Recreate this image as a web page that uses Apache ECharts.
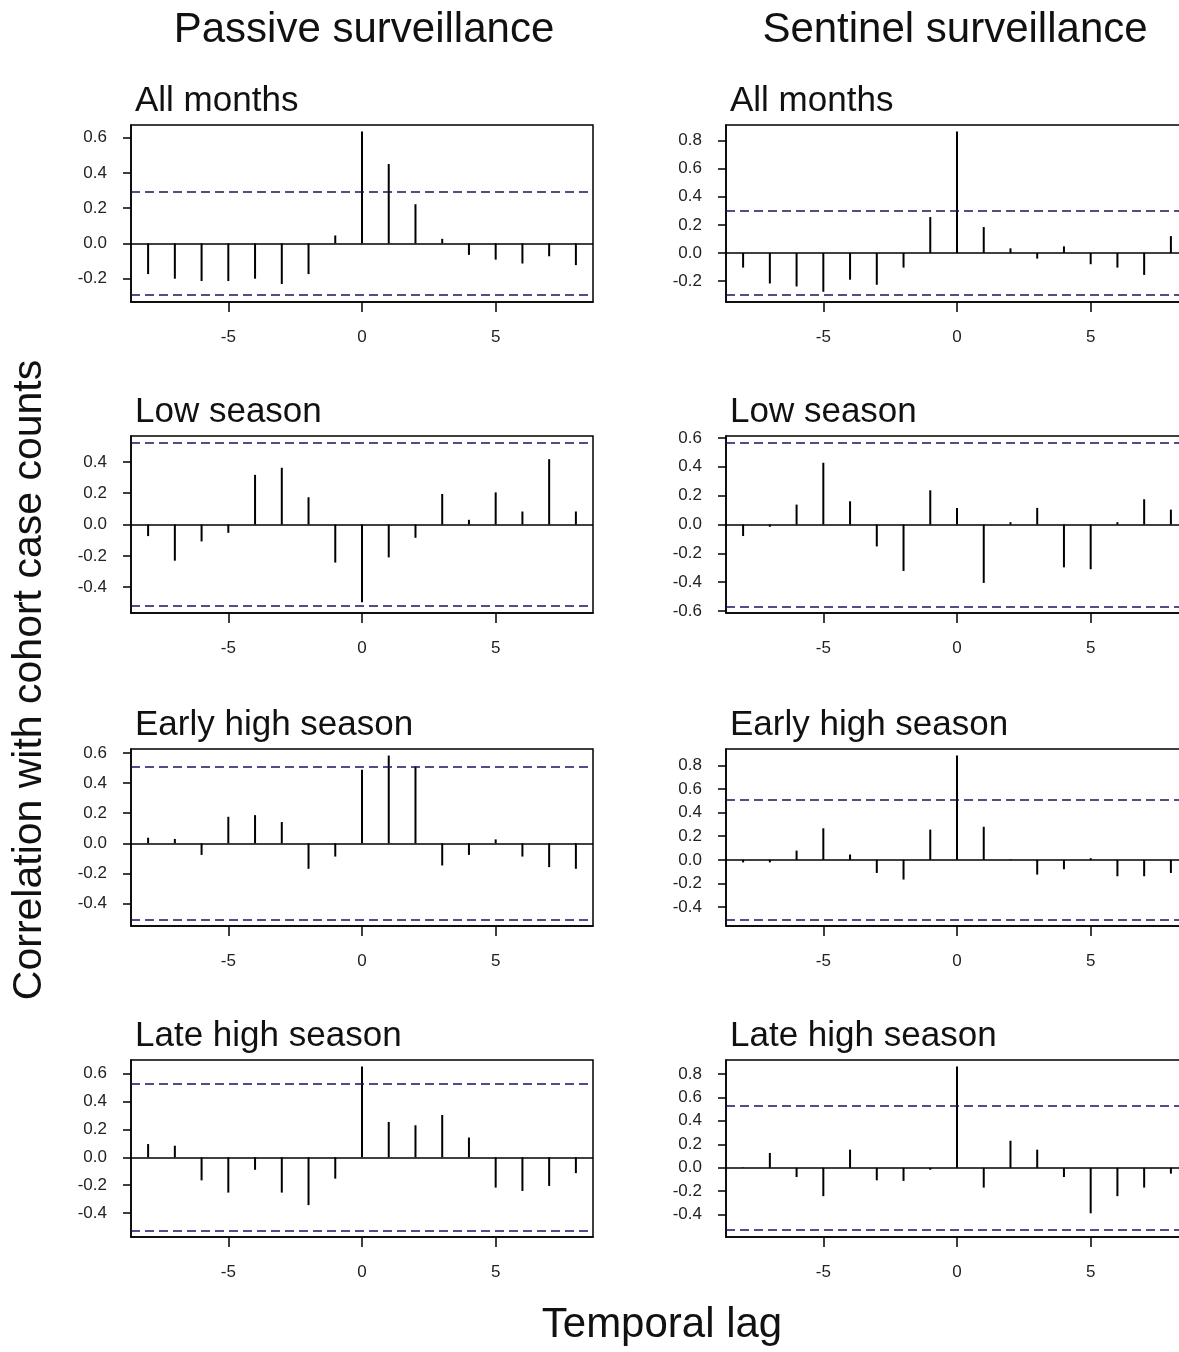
<!DOCTYPE html>
<html>
<head>
<meta charset="utf-8">
<script src="https://cdn.jsdelivr.net/npm/echarts@6/dist/echarts.min.js"></script>
<style>
  html, body { margin: 0; padding: 0; background: #fff; }
  #chart { width: 1179px; height: 1352px; }
</style>
</head>
<body>
<div id="chart"></div>
<script>
// lags shown on every panel
const lags = [-8, -7, -6, -5, -4, -3, -2, -1, 0, 1, 2, 3, 4, 5, 6, 7, 8];
const xTicks = [-5, 0, 5];

const columnTitles = ["Passive surveillance", "Sentinel surveillance"];
const panelTitles = ["All months", "Low season", "Early high season", "Late high season"];

// cross-correlation values, lag -8 .. 8
const passiveAll   = [-0.174, -0.200, -0.213, -0.213, -0.200, -0.230, -0.174, 0.045, 0.634, 0.450, 0.222, 0.026, -0.065, -0.092, -0.114, -0.073, -0.123];
const passiveLow   = [-0.074, -0.231, -0.108, -0.053, 0.317, 0.362, 0.174, -0.243, -0.497, -0.210, -0.085, 0.195, 0.030, 0.205, 0.083, 0.417, 0.083];
const passiveEarly = [0.037, 0.029, -0.077, 0.176, 0.187, 0.141, -0.169, -0.088, 0.488, 0.582, 0.510, -0.147, -0.077, 0.026, -0.088, -0.158, -0.169];
const passiveLate  = [0.095, 0.083, -0.166, -0.254, -0.090, -0.254, -0.344, -0.154, 0.652, 0.254, 0.230, 0.304, 0.142, -0.218, -0.242, -0.206, -0.114];

const sentinelAll   = [-0.104, -0.217, -0.238, -0.276, -0.190, -0.226, -0.104, 0.255, 0.863, 0.184, 0.033, -0.040, 0.047, -0.080, -0.104, -0.156, 0.120];
const sentinelLow   = [-0.080, -0.016, 0.138, 0.428, 0.161, -0.152, -0.322, 0.237, 0.115, -0.405, 0.016, 0.115, -0.297, -0.310, 0.016, 0.175, 0.103];
const sentinelEarly = [-0.022, -0.022, 0.078, 0.267, 0.045, -0.111, -0.167, 0.256, 0.883, 0.280, 0.004, -0.125, -0.080, 0.014, -0.139, -0.139, -0.111];
const sentinelLate  = [0.004, 0.126, -0.079, -0.242, 0.154, -0.107, -0.112, -0.017, 0.862, -0.169, 0.230, 0.154, -0.079, -0.388, -0.242, -0.169, -0.050];

// significance bounds (dashed lines)
const passiveCI  = [0.295, 0.523, 0.505, 0.526];
const sentinelCI = [0.302, 0.568, 0.505, 0.534];

// y tick labels per panel
const passiveYTicks = [
  [-0.2, 0.0, 0.2, 0.4, 0.6],
  [-0.4, -0.2, 0.0, 0.2, 0.4],
  [-0.4, -0.2, 0.0, 0.2, 0.4, 0.6],
  [-0.4, -0.2, 0.0, 0.2, 0.4, 0.6]
];
const sentinelYTicks = [
  [-0.2, 0.0, 0.2, 0.4, 0.6, 0.8],
  [-0.6, -0.4, -0.2, 0.0, 0.2, 0.4, 0.6],
  [-0.4, -0.2, 0.0, 0.2, 0.4, 0.6, 0.8],
  [-0.4, -0.2, 0.0, 0.2, 0.4, 0.6, 0.8]
];

const passive = [passiveAll, passiveLow, passiveEarly, passiveLate];
const sentinel = [sentinelAll, sentinelLow, sentinelEarly, sentinelLate];

const FONT = "'Liberation Sans', Arial, sans-serif";
const colLeft = [131, 726];
const rowTop = [125, 436, 749, 1060];
const boxW = 462;
const boxH = 177;
const CI_COLOR = "#16165c";

const grids = [], xAxes = [], yAxes = [], series = [], graphics = [];

function addPanel(col, row, values, ci, yTicks) {
  const idx = grids.length;
  // range like R: include the bounds, pad 4%
  let lo = Math.min(-ci, Math.min(...values));
  let hi = Math.max(ci, Math.max(...values));
  const pad = (hi - lo) * 0.04;
  lo -= pad; hi += pad;

  grids.push({
    left: colLeft[col], top: rowTop[row], width: boxW, height: boxH,
    outerBoundsMode: "none", containLabel: false,
    show: true, borderColor: "#000", borderWidth: 1.5, backgroundColor: "transparent"
  });
  xAxes.push({
    type: "value", gridIndex: idx, min: -8.64, max: 8.64, position: "bottom",
    axisLine: { show: true, onZero: false, lineStyle: { color: "#000", width: 1.5 } },
    splitLine: { show: false },
    axisTick: { show: true, length: 10, lineStyle: { color: "#000", width: 1.5 }, customValues: xTicks },
    axisLabel: { show: true, margin: 27, fontSize: 17, color: "#222", fontFamily: FONT, customValues: xTicks, formatter: v => String(v) }
  });
  yAxes.push({
    type: "value", gridIndex: idx, min: lo, max: hi, position: "left",
    axisLine: { show: true, onZero: false, lineStyle: { color: "#000", width: 1.5 } },
    splitLine: { show: false },
    axisTick: { show: true, length: 8, lineStyle: { color: "#000", width: 1.5 }, customValues: yTicks },
    axisLabel: { show: true, margin: 24, fontSize: 17, color: "#222", fontFamily: FONT, customValues: yTicks, formatter: v => v.toFixed(1) }
  });
  series.push({
    type: "bar", xAxisIndex: idx, yAxisIndex: idx,
    barWidth: 2,
    itemStyle: { color: "#000" },
    data: lags.map((l, i) => [l, values[i]]),
    markLine: {
      silent: true, symbol: "none", label: { show: false },
      data: [
        { yAxis: 0, lineStyle: { type: "solid", color: "#000", width: 1.5 } },
        { yAxis: ci, lineStyle: { type: [9, 5], color: CI_COLOR, width: 1.5 } },
        { yAxis: -ci, lineStyle: { type: [9, 5], color: CI_COLOR, width: 1.5 } }
      ]
    }
  });
  graphics.push({
    type: "text", x: colLeft[col] + 4, y: rowTop[row] - 24,
    style: { text: panelTitles[row], fontSize: 35, fontFamily: FONT, fill: "#111", textAlign: "left", textVerticalAlign: "middle" }
  });
}

for (let r = 0; r < 4; r++) {
  addPanel(0, r, passive[r], passiveCI[r], passiveYTicks[r]);
  addPanel(1, r, sentinel[r], sentinelCI[r], sentinelYTicks[r]);
}

graphics.push(
  { type: "text", x: 364, y: 30, style: { text: columnTitles[0], fontSize: 42, fontFamily: FONT, fill: "#111", textAlign: "center", textVerticalAlign: "middle" } },
  { type: "text", x: 955, y: 30, style: { text: columnTitles[1], fontSize: 42, fontFamily: FONT, fill: "#111", textAlign: "center", textVerticalAlign: "middle" } },
  { type: "text", x: 662, y: 1325, style: { text: "Temporal lag", fontSize: 42, fontFamily: FONT, fill: "#111", textAlign: "center", textVerticalAlign: "middle" } },
  { type: "text", x: 30, y: 680, rotation: Math.PI / 2, style: { text: "Correlation with cohort case counts", fontSize: 41, fontFamily: FONT, fill: "#111", textAlign: "center", textVerticalAlign: "middle" } }
);

const chart = echarts.init(document.getElementById("chart"), null, { renderer: "canvas" });
chart.setOption({
  animation: false,
  backgroundColor: "#fff",
  grid: grids,
  xAxis: xAxes,
  yAxis: yAxes,
  series: series,
  graphic: graphics
});
</script>
</body>
</html>
